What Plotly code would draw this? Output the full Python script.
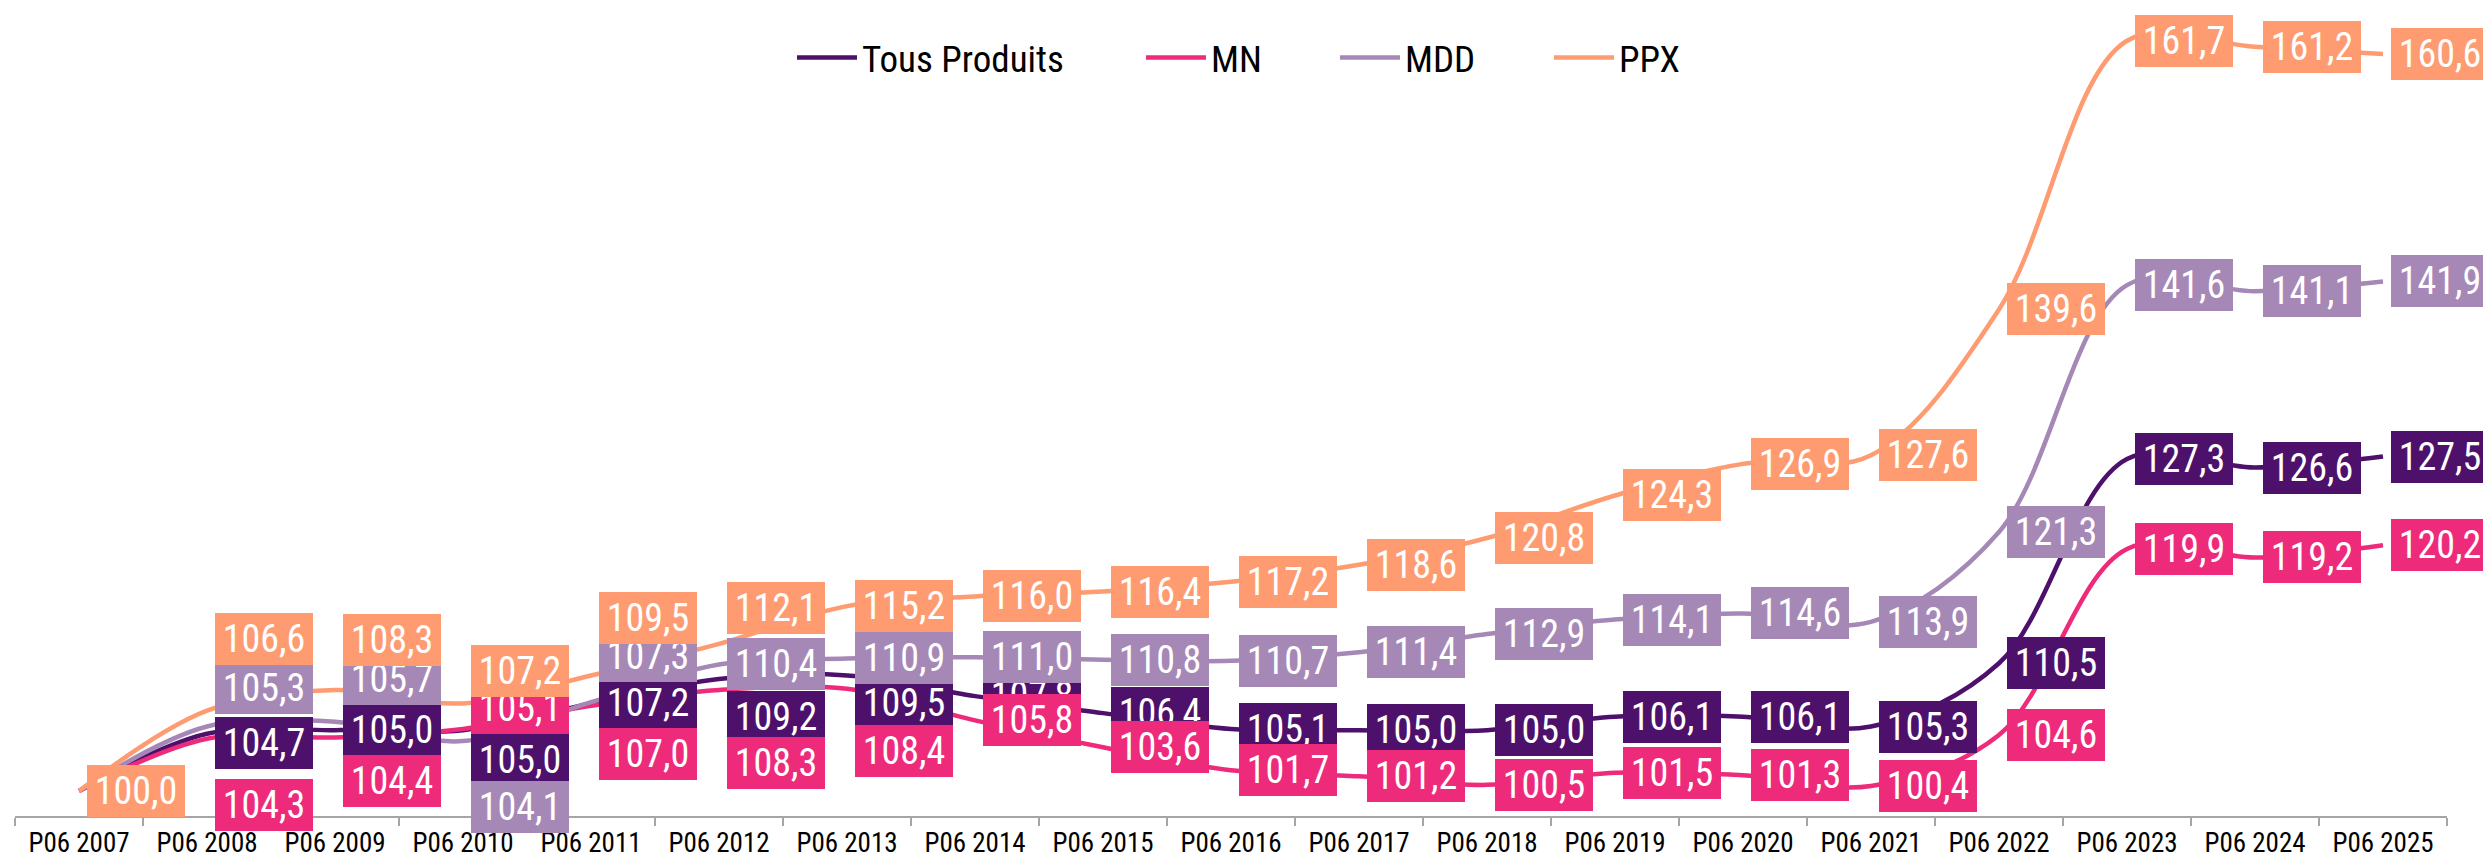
import plotly.graph_objects as go

categories = ["P06 2007", "P06 2008", "P06 2009", "P06 2010", "P06 2011", "P06 2012",
              "P06 2013", "P06 2014", "P06 2015", "P06 2016", "P06 2017", "P06 2018",
              "P06 2019", "P06 2020", "P06 2021", "P06 2022", "P06 2023", "P06 2024",
              "P06 2025"]

tous_produits = [100.0, 104.7, 105.0, 105.0, 107.2, 109.2, 109.5, 107.8, 106.4, 105.1,
                 105.0, 105.0, 106.1, 106.1, 105.3, 110.5, 127.3, 126.6, 127.5]
mn = [100.0, 104.3, 104.4, 105.1, 107.0, 108.3, 108.4, 105.8, 103.6, 101.7,
      101.2, 100.5, 101.5, 101.3, 100.4, 104.6, 119.9, 119.2, 120.2]
mdd = [100.0, 105.3, 105.7, 104.1, 107.3, 110.4, 110.9, 111.0, 110.8, 110.7,
       111.4, 112.9, 114.1, 114.6, 113.9, 121.3, 141.6, 141.1, 141.9]
ppx = [100.0, 106.6, 108.3, 107.2, 109.5, 112.1, 115.2, 116.0, 116.4, 117.2,
       118.6, 120.8, 124.3, 126.9, 127.6, 139.6, 161.7, 161.2, 160.6]

series_names = ["Tous Produits", "MN", "MDD", "PPX"]
series_values = [tous_produits, mn, mdd, ppx]
series_colors = ["#4D116C", "#EE2B7B", "#A688B7", "#FF9B70"]

# manual label placement (pixels, + = up), first years only, as in the source chart
label_yshift = {
    "Tous Produits": [0, -9, 0, -30, 0, -38, -28],
    "MN": [0, -66, -44, 21, -48, -73, -62],
    "MDD": [0, 39, 43, -66, 46, 0, 0],
    "PPX": [0, 72, 50, 32, 57, 36, 0],
}

FONT = "Roboto Condensed, Liberation Sans Narrow, DejaVu Sans Condensed, Roboto, sans-serif"

fig = go.Figure()
legend_ids = ["legend", "legend2", "legend3", "legend4"]
for name, vals, col, lg in zip(series_names, series_values, series_colors, legend_ids):
    fig.add_trace(go.Scatter(
        x=categories, y=vals, name=name, mode="lines",
        line=dict(color=col, width=4.5, shape="spline", smoothing=1.0),
        legend=lg, hoverinfo="skip",
    ))

annotations = []
for name, vals, col in zip(series_names, series_values, series_colors):
    shifts = label_yshift[name]
    for i, (c, v) in enumerate(zip(categories, vals)):
        ys = shifts[i] if i < len(shifts) else 0
        annotations.append(dict(
            x=c, y=v, xref="x", yref="y",
            text=f"{v:.1f}".replace(".", ","),
            showarrow=False, xshift=57, yshift=ys,
            bgcolor=col, borderwidth=0, borderpad=4,
            width=90, height=44, align="center", valign="middle",
            font=dict(family=FONT, size=38, color="white"),
        ))

# legend positions (pixel x of each legend's left edge)
legend_x_px = [784, 1133, 1327, 1541]
plot_left, plot_w = 7, 2432
leg_layout = {}
for lg, px in zip(legend_ids, legend_x_px):
    leg_layout[lg] = dict(
        x=(px - plot_left) / plot_w, xanchor="left", y=1 - 50 / 808, yanchor="middle",
        orientation="h", font=dict(family=FONT, size=37, color="black"),
        bgcolor="rgba(0,0,0,0)", borderwidth=0, itemwidth=60,
    )

fig.update_layout(
    width=2491, height=855, autosize=False,
    margin=dict(l=7, r=52, t=0, b=47),
    paper_bgcolor="white", plot_bgcolor="white",
    annotations=annotations,
    showlegend=True,
    **leg_layout,
)
fig.update_xaxes(
    type="category", showgrid=False, zeroline=False,
    showline=True, linecolor="#A6A6A6", linewidth=2,
    ticks="outside", tickson="boundaries", ticklen=8, tickwidth=2, tickcolor="#A6A6A6",
    tickfont=dict(family=FONT, size=27, color="black"), ticklabelstandoff=2,
    range=[-0.5, 18.5], fixedrange=True,
)
fig.update_yaxes(visible=False, range=[97.94, 164.39], fixedrange=True, showgrid=False)

fig.write_html("out.html")
